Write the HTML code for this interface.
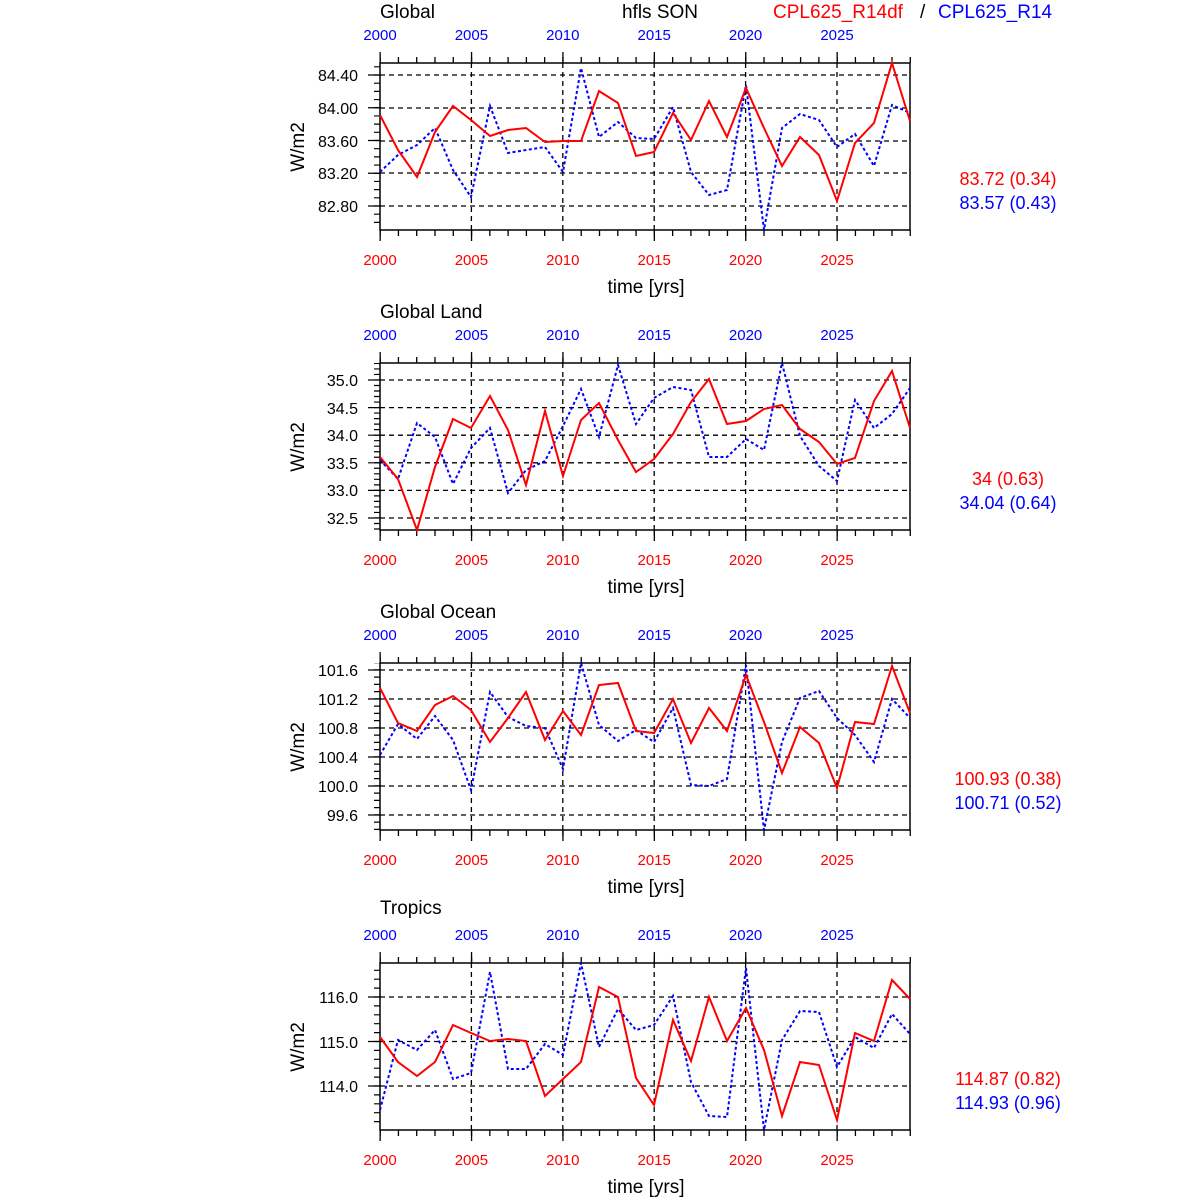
<!DOCTYPE html>
<html><head><meta charset="utf-8"><style>body{margin:0;background:#fff}svg{display:block}text{font-family:"Liberation Sans",sans-serif}</style></head><body>
<svg width="1200" height="1200" viewBox="0 0 1200 1200" xmlns="http://www.w3.org/2000/svg">
<defs>
<g id="frame">
 <g stroke="#000" stroke-width="1.3" stroke-dasharray="5 4" fill="none">
  <line x1="471.4" y1="63" x2="471.4" y2="230"/><line x1="562.8" y1="63" x2="562.8" y2="230"/><line x1="654.2" y1="63" x2="654.2" y2="230"/><line x1="745.6" y1="63" x2="745.6" y2="230"/><line x1="837" y1="63" x2="837" y2="230"/>
 </g>
 <g stroke="#000" fill="none">
  <line x1="379.5" y1="57.5" x2="912" y2="57.5" stroke-width="11" stroke-dasharray="1.3 90.1"/>
  <line x1="379.5" y1="60" x2="912" y2="60" stroke-width="6" stroke-dasharray="1.3 16.98"/>
  <line x1="379.5" y1="235.5" x2="912" y2="235.5" stroke-width="11" stroke-dasharray="1.3 90.1"/>
  <line x1="379.5" y1="233" x2="912" y2="233" stroke-width="6" stroke-dasharray="1.3 16.98"/>
  <rect x="380" y="63" width="530" height="167" stroke-width="1.5"/>
 </g>
 <g font-size="15" fill="#00f" text-anchor="middle"><text x="380" y="40">2000</text><text x="471.4" y="40">2005</text><text x="562.8" y="40">2010</text><text x="654.2" y="40">2015</text><text x="745.6" y="40">2020</text><text x="837" y="40">2025</text></g>
 <g font-size="15" fill="#f00" text-anchor="middle"><text x="380" y="265">2000</text><text x="471.4" y="265">2005</text><text x="562.8" y="265">2010</text><text x="654.2" y="265">2015</text><text x="745.6" y="265">2020</text><text x="837" y="265">2025</text></g>
 <text x="646" y="293" font-size="19" text-anchor="middle">time [yrs]</text>
 <text transform="translate(304,147) rotate(-90)" font-size="19" text-anchor="middle">W/m2</text>
</g>
</defs>

<!-- Panel 1 -->
<use href="#frame"/>
<g stroke="#000" stroke-width="1.3" stroke-dasharray="5 4"><line x1="380" y1="75" x2="910" y2="75"/><line x1="380" y1="108" x2="910" y2="108"/><line x1="380" y1="141" x2="910" y2="141"/><line x1="380" y1="173" x2="910" y2="173"/><line x1="380" y1="206" x2="910" y2="206"/></g>
<g stroke="#000"><line x1="374" y1="206.6" x2="374" y2="63" stroke-width="12" stroke-dasharray="1.2 31.55"/><line x1="377" y1="223" x2="377" y2="63" stroke-width="6" stroke-dasharray="1.2 6.99"/></g>
<g font-size="16" text-anchor="end"><text x="358" y="81">84.40</text><text x="358" y="114">84.00</text><text x="358" y="147">83.60</text><text x="358" y="179">83.20</text><text x="358" y="212">82.80</text></g>
<polyline fill="none" stroke="#00f" stroke-width="2" stroke-dasharray="3 2.5" points="380,172 398,155 417,145 435,128 453,170 471,197 490,106 508,153 526,150 545,147 563,172 581,68 599,137 618,122 636,138 654,139 673,107 691,172 709,195 727,190 746,85 764,230 782,128 800,114 819,120 837,147 855,134 874,166 892,105 910,113"/>
<polyline fill="none" stroke="#f00" stroke-width="2" points="380,115 398,150 417,177 435,132 453,106 471,120 490,136 508,130 526,128 545,142 563,141 581,141 599,91 618,103 636,156 654,152 673,113 691,140 709,101 727,137 746,88 764,128 782,166 800,137 819,155 837,201 855,143 874,123 892,63 910,121"/>
<text x="380" y="18" font-size="19">Global</text>
<text x="660" y="18" font-size="19" text-anchor="middle">hfls SON</text>
<text x="773" y="18" font-size="19" fill="#f00">CPL625_R14df</text>
<text x="920" y="18" font-size="19">/</text>
<text x="938" y="18" font-size="19" fill="#00f">CPL625_R14</text>
<text x="1008" y="185" font-size="18" fill="#f00" text-anchor="middle">83.72 (0.34)</text>
<text x="1008" y="209" font-size="18" fill="#00f" text-anchor="middle">83.57 (0.43)</text>

<!-- Panel 2 -->
<use href="#frame" y="300"/>
<g stroke="#000" stroke-width="1.3" stroke-dasharray="5 4"><line x1="380" y1="380" x2="910" y2="380"/><line x1="380" y1="407.6" x2="910" y2="407.6"/><line x1="380" y1="435.2" x2="910" y2="435.2"/><line x1="380" y1="462.8" x2="910" y2="462.8"/><line x1="380" y1="490.4" x2="910" y2="490.4"/><line x1="380" y1="518" x2="910" y2="518"/></g>
<g stroke="#000"><line x1="374" y1="518.6" x2="374" y2="363" stroke-width="12" stroke-dasharray="1.2 26.4"/><line x1="377" y1="529.6" x2="377" y2="363" stroke-width="6" stroke-dasharray="1.2 4.32"/></g>
<g font-size="16" text-anchor="end"><text x="358" y="386">35.0</text><text x="358" y="414">34.5</text><text x="358" y="441">34.0</text><text x="358" y="469">33.5</text><text x="358" y="496">33.0</text><text x="358" y="524">32.5</text></g>
<polyline fill="none" stroke="#00f" stroke-width="2" stroke-dasharray="3 2.5" points="380,460 398,479 417,423 435,437 453,484 471,448 490,428 508,493 526,470 545,461 563,426 581,389 599,437 618,365 636,424 654,398 673,387 691,390 709,457 727,457 746,439 764,450 782,363 800,436 819,466 837,481 855,400 874,428 892,414 910,388"/>
<polyline fill="none" stroke="#f00" stroke-width="2" points="380,457 398,479 417,530 435,467 453,419 471,428 490,396 508,430 526,485 545,411 563,476 581,420 599,403 618,440 636,472 654,459 673,434 691,402 709,379 727,424 746,421 764,409 782,405 800,429 819,442 837,464 855,458 874,401 892,371 910,428"/>
<text x="380" y="318" font-size="19">Global Land</text>
<text x="1008" y="485" font-size="18" fill="#f00" text-anchor="middle">34 (0.63)</text>
<text x="1008" y="509" font-size="18" fill="#00f" text-anchor="middle">34.04 (0.64)</text>

<!-- Panel 3 -->
<use href="#frame" y="600"/>
<g stroke="#000" stroke-width="1.3" stroke-dasharray="5 4"><line x1="380" y1="670" x2="910" y2="670"/><line x1="380" y1="699" x2="910" y2="699"/><line x1="380" y1="728" x2="910" y2="728"/><line x1="380" y1="757" x2="910" y2="757"/><line x1="380" y1="786" x2="910" y2="786"/><line x1="380" y1="815" x2="910" y2="815"/></g>
<g stroke="#000"><line x1="374" y1="815.6" x2="374" y2="663" stroke-width="12" stroke-dasharray="1.2 27.8"/><line x1="377" y1="830" x2="377" y2="663" stroke-width="6" stroke-dasharray="1.2 6.05"/></g>
<g font-size="16" text-anchor="end"><text x="358" y="676">101.6</text><text x="358" y="705">101.2</text><text x="358" y="734">100.8</text><text x="358" y="763">100.4</text><text x="358" y="792">100.0</text><text x="358" y="821">99.6</text></g>
<polyline fill="none" stroke="#00f" stroke-width="2" stroke-dasharray="3 2.5" points="380,755 398,724 417,739 435,716 453,740 471,790 490,692 508,717 526,726 545,728 563,769 581,663 599,725 618,741 636,730 654,742 673,708 691,785 709,786 727,779 746,665 764,830 782,742 800,698 819,691 837,718 855,735 874,762 892,699 910,718"/>
<polyline fill="none" stroke="#f00" stroke-width="2" points="380,688 398,723 417,731 435,705 453,696 471,710 490,742 508,718 526,692 545,740 563,711 581,735 599,685 618,683 636,731 654,733 673,699 691,743 709,708 727,731 746,675 764,722 782,773 800,727 819,743 837,788 855,722 874,724 892,666 910,713"/>
<text x="380" y="618" font-size="19">Global Ocean</text>
<text x="1008" y="785" font-size="18" fill="#f00" text-anchor="middle">100.93 (0.38)</text>
<text x="1008" y="809" font-size="18" fill="#00f" text-anchor="middle">100.71 (0.52)</text>

<!-- Panel 4 -->
<use href="#frame" y="900"/>
<g stroke="#000" stroke-width="1.3" stroke-dasharray="5 4"><line x1="380" y1="997" x2="910" y2="997"/><line x1="380" y1="1041.5" x2="910" y2="1041.5"/><line x1="380" y1="1086" x2="910" y2="1086"/></g>
<g stroke="#000"><line x1="374" y1="1086.6" x2="374" y2="963" stroke-width="12" stroke-dasharray="1.2 43.3"/><line x1="377" y1="1122.2" x2="377" y2="963" stroke-width="6" stroke-dasharray="1.2 7.7"/></g>
<g font-size="16" text-anchor="end"><text x="358" y="1003">116.0</text><text x="358" y="1048">115.0</text><text x="358" y="1092">114.0</text></g>
<polyline fill="none" stroke="#00f" stroke-width="2" stroke-dasharray="3 2.5" points="380,1110 398,1040 417,1050 435,1030 453,1079 471,1073 490,972 508,1069 526,1069 545,1044 563,1055 581,963 599,1047 618,1009 636,1030 654,1025 673,996 691,1082 709,1116 727,1117 746,968 764,1130 782,1040 800,1011 819,1012 837,1067 855,1037 874,1048 892,1014 910,1034"/>
<polyline fill="none" stroke="#f00" stroke-width="2" points="380,1037 398,1062 417,1076 435,1062 453,1025 471,1033 490,1041 508,1039 526,1041 545,1096 563,1079 581,1062 599,987 618,997 636,1078 654,1105 673,1020 691,1061 709,997 727,1041 746,1008 764,1050 782,1116 800,1062 819,1065 837,1120 855,1033 874,1041 892,980 910,999"/>
<text x="380" y="914" font-size="19">Tropics</text>
<text x="1008" y="1085" font-size="18" fill="#f00" text-anchor="middle">114.87 (0.82)</text>
<text x="1008" y="1109" font-size="18" fill="#00f" text-anchor="middle">114.93 (0.96)</text>
</svg>
</body></html>
